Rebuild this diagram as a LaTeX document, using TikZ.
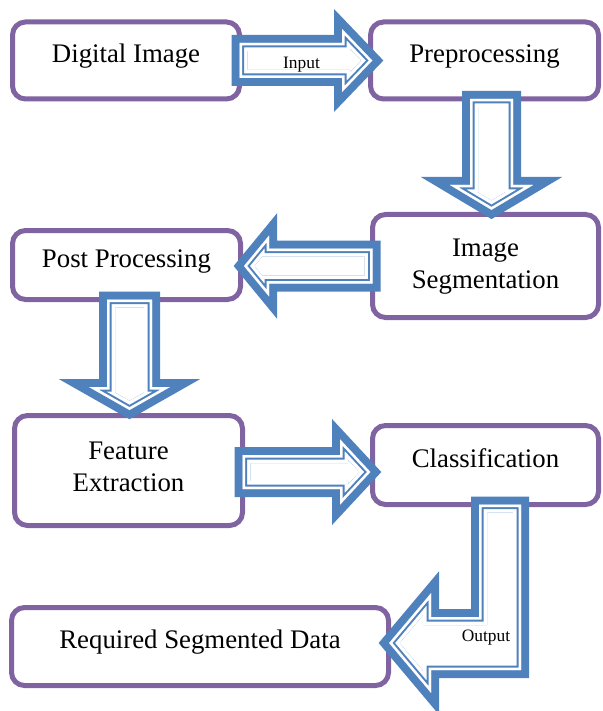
\documentclass[tikz,border=0pt]{standalone}
\usepackage{fontspec}
\setmainfont{Liberation Serif}

\definecolor{boxpurple}{RGB}{128,100,162}
\definecolor{arrowblue}{RGB}{79,129,189}

\tikzset{
  stepbox/.style={draw=boxpurple, line width=2.5pt, rounded corners=6.5pt,
    fill=white, outer sep=0pt, align=center,
    font=\fontsize{13.4}{16}\selectfont},
  oneline/.style={text height=0.68em, text depth=0.47em},
  tag/.style={font=\fontsize{8.7}{10}\selectfont, inner sep=0pt, anchor=base}
}

% block arrow: thick blue rim, thin blue line inside
\newcommand\fatarrow[1]{%
  \fill[white] #1;
  \draw[arrowblue, line width=8pt] #1;
  \begin{scope}
    \clip #1;
    \draw[white, line width=8pt] #1;
    \draw[arrowblue, line width=4.5pt] #1;
    \draw[white, line width=2.5pt] #1;
  \end{scope}}

\begin{document}
\begin{tikzpicture}[x=0.5pt, y=-0.5pt]
    \useasboundingbox (0,0) rectangle (603,711);
    % steps
    \node[stepbox, oneline, minimum width=113.5pt, minimum height=38.5pt] (dig) at (126,60.5) {Digital Image};
    \node[stepbox, oneline, minimum width=114pt, minimum height=38.5pt] (pre) at (484.5,60.5) {Preprocessing};
    \node[stepbox, text depth=0.18em, minimum width=113pt, minimum height=51.5pt] (seg) at (485.5,266) {Image\\Segmentation};
    \node[stepbox, oneline, minimum width=114pt, minimum height=34.5pt] (post) at (126.5,265) {Post Processing};
    \node[stepbox, text depth=0.33em, minimum width=114pt, minimum height=55pt] (feat) at (128.5,470.5) {Feature\\Extraction};
    \node[stepbox, oneline, minimum width=113pt, minimum height=39.5pt] (cls) at (485.5,465) {Classification};
    \node[stepbox, oneline, minimum width=188.5pt, minimum height=39pt] (req) at (200,646.5) {Required Segmented Data};
    % arrows
    \begin{scope}[shift={(dig.east)}]
      \fatarrow{(0,-17.5) -- (102.5,-17.5) -- (102.5,-31.6) -- (132.8,0) -- (102.5,31.6) -- (102.5,17.5) -- (0,17.5) -- cycle}
    \end{scope}
    \begin{scope}[shift={([xshift=3.5pt]pre.south)}]
      \fatarrow{(-21.5,0) -- (-21.5,86) -- (-41.6,86) -- (0,110.8) -- (41.6,86) -- (21.5,86) -- (21.5,0) -- cycle}
    \end{scope}
    \begin{scope}[shift={(seg.west)}]
      \fatarrow{(0,-17.5) -- (-103.5,-17.5) -- (-103.5,-30.4) -- (-128.5,0) -- (-103.5,30.4) -- (-103.5,17.5) -- (0,17.5) -- cycle}
    \end{scope}
    \begin{scope}[shift={([xshift=1.5pt]post.south)}]
      \fatarrow{(-22.5,0) -- (-22.5,87.5) -- (-40.5,87.5) -- (0,110.5) -- (40.5,87.5) -- (22.5,87.5) -- (22.5,0) -- cycle}
    \end{scope}
    \begin{scope}[shift={([yshift=-0.75pt]feat.east)}]
      \fatarrow{(0,-17) -- (97.5,-17) -- (97.5,-32.7) -- (127.9,0) -- (97.5,32.7) -- (97.5,17) -- (0,17) -- cycle}
    \end{scope}
    \begin{scope}[shift={([xshift=7.25pt]cls.south)}]
      \fatarrow{(-21,0) -- (-21,112.5) -- (-69,112.5) -- (-69,88.7) -- (-110.9,138.5) -- (-69,188.3) -- (-69,165.5) -- (21,165.5) -- (21,0) -- cycle}
    \end{scope}
    % labels
    \node[tag] (inlbl) at (301.5,68.3) {Input};
    \node[tag] (outlbl) at (486,641.7) {Output};
\end{tikzpicture}
\end{document}
